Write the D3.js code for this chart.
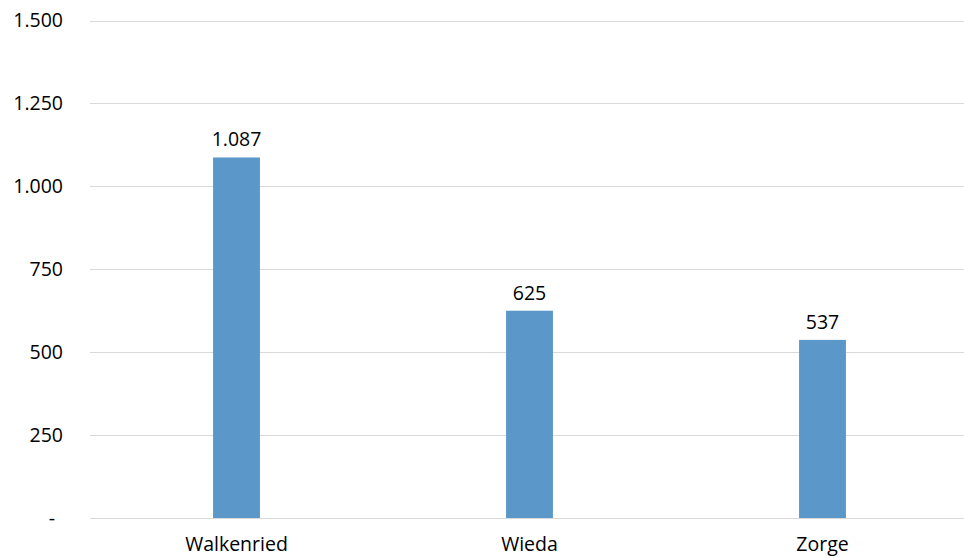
<!DOCTYPE html>
<html>
<head>
<meta charset="utf-8">
<script src="https://cdn.jsdelivr.net/npm/d3@7"></script>
<style>
  body { margin: 0; background: #fff; }
  text { font-family: "Open Sans", "Noto Sans", sans-serif; fill: #000; }
</style>
</head>
<body>
<svg id="chart"></svg>
<script>
const CATEGORIES = ["Walkenried", "Wieda", "Zorge"];
const VALUES = [1087, 625, 537];
const Y_TICKS = [0, 250, 500, 750, 1000, 1250, 1500];

const WIDTH = 964;
const HEIGHT = 558;
const margin = { top: 20, right: -5, bottom: 40, left: 90 };
const FONT_SIZE = 19.5;

const PLOT_END_X = WIDTH - margin.right;
const PLOT_END_Y = HEIGHT - margin.bottom;

const de = d3.formatLocale({ decimal: ",", thousands: ".", grouping: [3], currency: ["", " €"] });
const fmt = de.format(",d");

const svg = d3.select("#chart").attr("width", WIDTH).attr("height", HEIGHT);

const xScale = d3.scaleBand()
  .domain(CATEGORIES)
  .range([margin.left, PLOT_END_X])
  .paddingInner(0.84)
  .paddingOuter(0.42);

const yScale = d3.scaleLinear()
  .domain([0, 1500])
  .range([PLOT_END_Y, margin.top + 0.5]);

// grid lines
svg.append("g")
  .selectAll("line")
  .data(Y_TICKS)
  .join("line")
  .attr("x1", margin.left)
  .attr("x2", PLOT_END_X)
  .attr("y1", (d) => Math.round(yScale(d)) + 0.5)
  .attr("y2", (d) => Math.round(yScale(d)) + 0.5)
  .attr("stroke", "#d9d9d9")
  .attr("stroke-width", 1.2);

// y axis labels
const yAxis = d3.axisLeft(yScale)
  .tickValues(Y_TICKS)
  .tickSize(0)
  .tickPadding(0)
  .tickFormat((d) => (d === 0 ? "-" : fmt(d)));

const yg = svg.append("g")
  .attr("transform", `translate(63, 0)`)
  .call(yAxis);
yg.select(".domain").remove();
yg.selectAll("text")
  .attr("font-size", FONT_SIZE)
  .attr("font-family", "Open Sans, sans-serif")
  .attr("fill", "#000")
  .attr("dx", (d) => (d === 0 ? -8 : 0));

// bars
svg.append("g")
  .selectAll("rect")
  .data(VALUES)
  .join("rect")
  .attr("x", (d, i) => xScale(CATEGORIES[i]))
  .attr("width", xScale.bandwidth())
  .attr("y", (d) => yScale(d))
  .attr("height", (d) => PLOT_END_Y - yScale(d))
  .attr("fill", "#5b97c9");

// value labels
svg.append("g")
  .selectAll("text")
  .data(VALUES)
  .join("text")
  .attr("x", (d, i) => xScale(CATEGORIES[i]) + xScale.bandwidth() / 2)
  .attr("y", (d) => yScale(d) - 11)
  .attr("text-anchor", "middle")
  .attr("font-size", FONT_SIZE)
  .text((d) => fmt(d));

// x axis labels
const xAxis = d3.axisBottom(xScale).tickSize(0).tickPadding(0);
const xg = svg.append("g")
  .attr("transform", `translate(0, ${PLOT_END_Y})`)
  .call(xAxis);
xg.select(".domain").remove();
xg.selectAll("text")
  .attr("font-size", FONT_SIZE)
  .attr("font-family", "Open Sans, sans-serif")
  .attr("fill", "#000")
  .attr("dy", 0)
  .attr("y", 33);
</script>
</body>
</html>
